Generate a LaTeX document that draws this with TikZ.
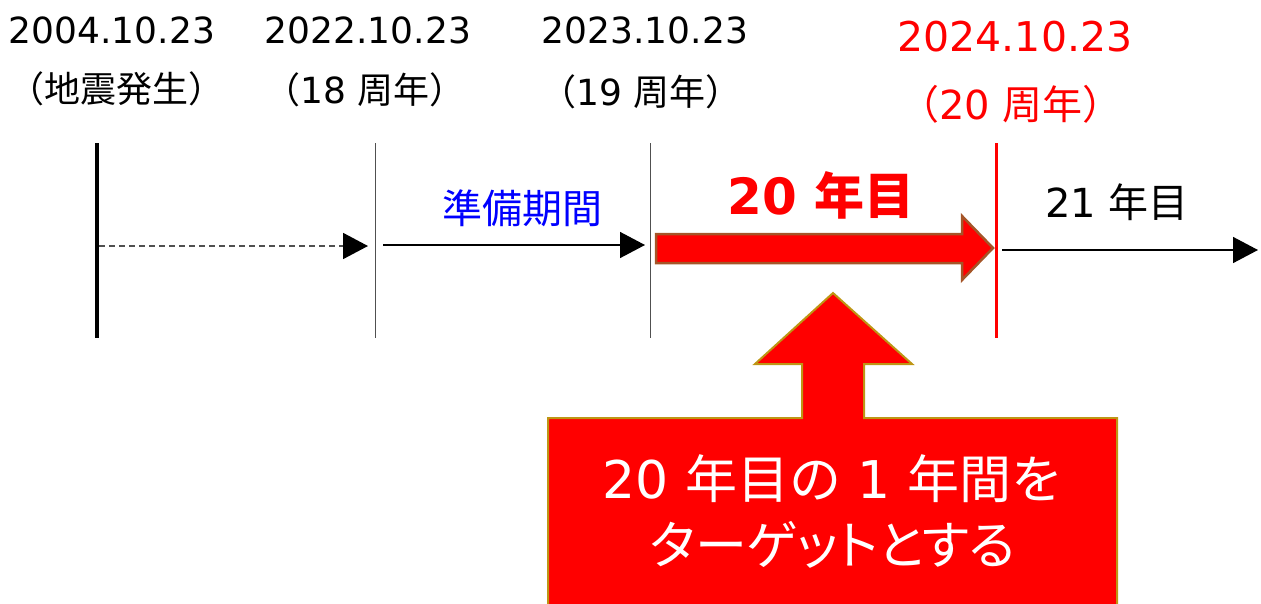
\documentclass[tikz,border=0pt]{standalone}
\usepackage{fontspec}
\setmainfont{DejaVu Sans}
\newfontfamily\jp{Noto Sans CJK JP}
\newfontfamily\jpp{Noto Sans CJK JP}[RawFeature=+palt]
\usetikzlibrary{arrows.meta,positioning}
\definecolor{pptred}{RGB}{255,0,0}
\definecolor{arrowrim}{RGB}{165,85,40}
\definecolor{calloutrim}{RGB}{190,150,20}
\definecolor{tickgray}{RGB}{80,80,80}
\tikzset{
  >={Triangle[length=25pt,width=26pt,color=black]},
  datelbl/.style={font=\fontsize{36}{40}\selectfont,inner sep=0pt},
  period/.style={font=\fontsize{40}{44}\selectfont,inner sep=0pt},
  tickline/.style={draw=tickgray,line width=1pt},
  arrow/.style={->,line width=1.5pt},
  blockarrow/.style={fill=pptred,line width=2pt,line join=miter},
}

\begin{document}
\begin{tikzpicture}[x=1pt,y=-1pt]
			\useasboundingbox (0,0) rectangle (1261,603);
			% dates and anniversaries
			\node[datelbl] (d04) at (112,30) {2004.10.23};
			\node[datelbl] (d22) at (368,30) {2022.10.23};
			\node[datelbl] (d23) at (645,30) {2023.10.23};
			\node[datelbl,text=pptred,font=\fontsize{41}{45}\selectfont] (d24) at (1015,37) {2024.10.23};
			\node[datelbl] (a04) at (117,89) {\jp（地震発生）};
			\node[datelbl] (a22) at (365,90) {{\jp（}18 {\jp 周年）}};
			\node[datelbl] (a23) at (641,92) {{\jp（}19 {\jp 周年）}};
			\node[datelbl,text=pptred,font=\fontsize{40}{44}\selectfont] (a24) at (1011,104) {{\jp（}20 {\jp 周年）}};
			% time ticks
			\draw[line width=3.5pt] (97,143) -- (97,338);
			\draw[tickline] (375,143) -- (375,338);
			\draw[tickline] (650,143) -- (650,338);
			\draw[pptred,line width=3pt] (996,143) -- (996,338);
			% periods
			\coordinate (s04) at (99,246);
			\coordinate (e04) at (368,246);
			\coordinate (s22) at (383,245);
			\coordinate (e22) at (645,245);
			\coordinate (s24) at (1002,250);
			\coordinate (e24) at (1258,250);
			\draw[arrow,draw=tickgray,line width=1.8pt,dash pattern=on 6pt off 4pt] (s04) -- (e04);
			\draw[arrow] (s22) -- (e22);
			\draw[arrow] (s24) -- (e24);
			\draw[blockarrow,draw=arrowrim,line width=2.5pt] (656,234) -- (962,234) -- (962,216) -- (993,248)
				-- (962,280) -- (962,263) -- (656,263) -- cycle;
			\node[period,text=blue] (prep) at (522,208) {\jp 準備期間};
			\node[inner sep=0pt,text=pptred,font=\fontsize{50}{54}\selectfont\bfseries] (y20) at (821,195) {20 {\jp 年目}};
			\node[period] (y21) at (1117,202) {21 {\jp 年目}};
			% target callout
			\draw[blockarrow,draw=calloutrim] (548,418) -- (802,418) -- (802,364) -- (755,364) -- (833,293)
				-- (912,364) -- (864,364) -- (864,418) -- (1117,418) -- (1117,612) -- (548,612) -- cycle;
			\node[align=center,text=white,inner sep=0pt,font=\fontsize{52}{66}\selectfont] (goal) at (833,511)
				{20 {\jp 年目の} 1 {\jp 年間を}\\{\jpp ターゲットとする}};
		\end{tikzpicture}
\end{document}
